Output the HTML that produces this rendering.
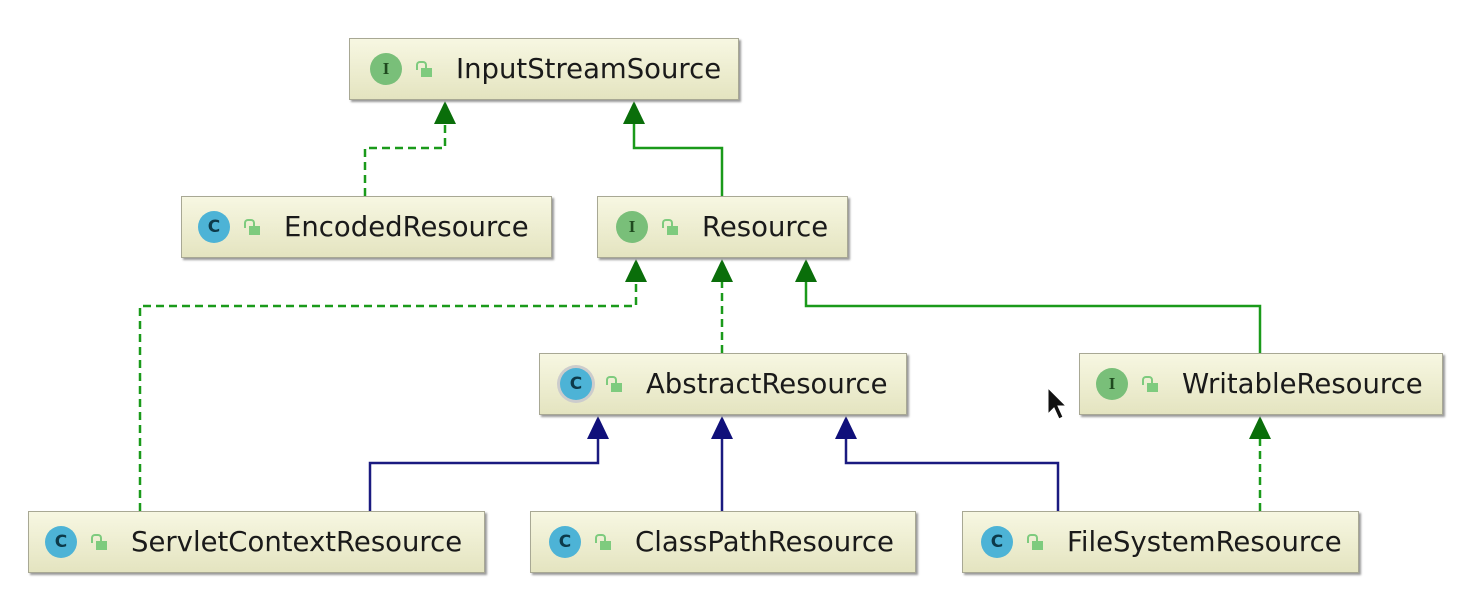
<!DOCTYPE html>
<html><head><style>
body{margin:0;width:1482px;height:614px;background:#fff;position:relative;overflow:hidden;font-family:"DejaVu Sans","Liberation Sans",sans-serif}
.b{position:absolute;height:62px;box-sizing:border-box;border:1px solid #a8a894;background:linear-gradient(#f7f7e2,#e4e4c0);box-shadow:2px 2px 2px #999;display:flex;align-items:center;font-size:27.5px;color:#1a1a1a}
.ic{width:32px;height:32px;border-radius:50%;display:inline-flex;align-items:center;justify-content:center;font-size:17px;font-weight:bold;font-family:"Liberation Serif",serif;margin-right:14px;flex:none}
.I{background:#79bf79;color:#1f4a1f}
.C{background:#4db3d6;color:#0d3a4a;font-family:"DejaVu Sans",sans-serif}
.lk{width:16px;height:16px;margin-right:24px;position:relative;flex:none}
.lk:before{content:"";position:absolute;left:0;top:0;width:7px;height:7px;border:2px solid #7ecb7e;border-bottom:none;border-radius:4px 4px 0 0}
.lk:after{content:"";position:absolute;left:5px;top:7px;width:11px;height:9px;background:#7ecb7e}
svg{position:absolute;left:0;top:0}
</style></head><body>
<svg width="1482" height="614">
<g fill="none" stroke-width="2.5">
<path d="M365 196V148H445V118" stroke="#1a9a1a" stroke-dasharray="8,5"/>
<path d="M722 196V148H634V118" stroke="#1a9a1a"/>
<path d="M140 511V306H636V276" stroke="#1a9a1a" stroke-dasharray="8,5"/>
<path d="M722 353V276" stroke="#1a9a1a" stroke-dasharray="8,5"/>
<path d="M1260 353V306H806V276" stroke="#1a9a1a"/>
<path d="M1260 511V433" stroke="#1a9a1a" stroke-dasharray="8,5"/>
<path d="M370 511V463H598V433" stroke="#1a1a80"/>
<path d="M722 511V433" stroke="#1a1a80"/>
<path d="M1058 511V463H846V433" stroke="#1a1a80"/>
</g>
<g fill="#0a6e0a">
<path d="M445 101L434 124H456Z"/><path d="M634 101L623 124H645Z"/>
<path d="M636 259L625 282H647Z"/><path d="M722 259L711 282H733Z"/><path d="M806 259L795 282H817Z"/>
<path d="M1260 416L1249 439H1271Z"/>
</g>
<g fill="#10107a">
<path d="M598 416L587 439H609Z"/><path d="M722 416L711 439H733Z"/><path d="M846 416L835 439H857Z"/>
</g>
<path d="M1048 388V414L1054 408L1059 419L1063 417L1058 406H1066Z" fill="#111" stroke="#fff" stroke-width="1"/>
</svg>
<div class="b" style="left:349px;top:38px;width:390px;padding-left:20px"><span class="ic I">I</span><span class="lk"></span>InputStreamSource</div>
<div class="b" style="left:181px;top:196px;width:371px;padding-left:16px"><span class="ic C">C</span><span class="lk"></span>EncodedResource</div>
<div class="b" style="left:597px;top:196px;width:251px;padding-left:18px"><span class="ic I">I</span><span class="lk"></span>Resource</div>
<div class="b" style="left:539px;top:353px;width:368px;padding-left:20px"><span class="ic C" style="box-shadow:0 0 0 3px #ccc">C</span><span class="lk"></span>AbstractResource</div>
<div class="b" style="left:1079px;top:353px;width:364px;padding-left:16px"><span class="ic I">I</span><span class="lk"></span>WritableResource</div>
<div class="b" style="left:28px;top:511px;width:457px;padding-left:16px"><span class="ic C">C</span><span class="lk"></span>ServletContextResource</div>
<div class="b" style="left:530px;top:511px;width:386px;padding-left:18px"><span class="ic C">C</span><span class="lk"></span>ClassPathResource</div>
<div class="b" style="left:962px;top:511px;width:397px;padding-left:18px"><span class="ic C">C</span><span class="lk"></span>FileSystemResource</div>
</body></html>
